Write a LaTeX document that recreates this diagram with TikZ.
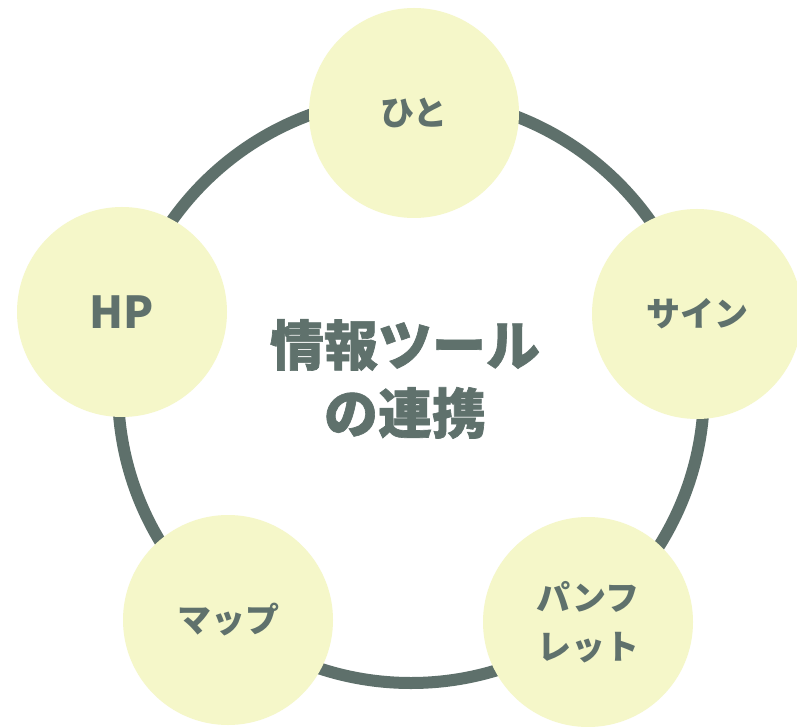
\documentclass[tikz,border=0pt]{standalone}
\usepackage{fontspec}
\newfontfamily\jp{Noto Sans CJK JP}
\newfontfamily\jpheavy{Noto Sans CJK JP}[BoldFeatures={FakeBold=1.2}]
\definecolor{ringc}{HTML}{5E706B}
\definecolor{fillc}{HTML}{F5F7C9}
\definecolor{txtc}{HTML}{5F716C}
\tikzset{
  bub/.style={circle, fill=fillc, minimum size=210pt, inner sep=0pt, text=txtc,
    font=\jp\bfseries\fontsize{34pt}{49pt}\selectfont, align=center},
  ringstyle/.style={circle, draw=ringc, line width=12pt, minimum size=586pt, inner sep=0pt},
  title/.style={text=txtc, font=\jpheavy\bfseries\fontsize{54pt}{68pt}\selectfont, align=center}
}
\begin{document}
\begin{tikzpicture}[x=1pt,y=-1pt]
\useasboundingbox (0,0) rectangle (797,727);
\fill[white] (0,0) rectangle (797,727);
\node[ringstyle] (ring) at (411,390) {};
\node[bub] (hito) at (414,113) {ひと};
\node[bub] (hp) at (122,312) {\fontsize{44pt}{46pt}\selectfont HP};
\node[bub] (sign) at (697,314) {サイン};
\node[bub] (map) at (228,620) {マップ};
\node[bub] (pamph) at (588,622) {パンフ\\レット};
\node[title] (center) at (405,379) {情報ツール\\の連携};
\end{tikzpicture}
\end{document}
